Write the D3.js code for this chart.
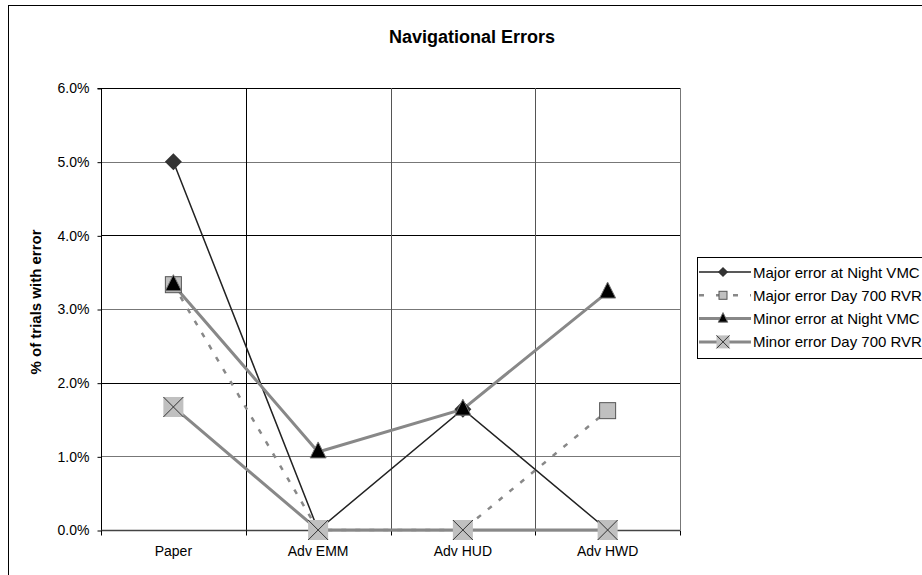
<!DOCTYPE html>
<html><head><meta charset="utf-8">
<script src="https://cdn.jsdelivr.net/npm/d3@7"></script>
<style>body{margin:0;background:#fff;}svg{display:block;font-family:"Liberation Sans",Arial,sans-serif;}</style>
</head><body>
<svg id="c" width="922" height="575"></svg>
<script>
const categories = ["Paper", "Adv EMM", "Adv HUD", "Adv HWD"];
const majorNightVMC = [5.0, 0.0, 1.64, 0.0];
const majorDay700RVR = [3.33, 0.0, 0.0, 1.62];
const minorNightVMC = [3.33, 1.06, 1.64, 3.23];
const minorDay700RVR = [1.67, 0.0, 0.0, 0.0];
const yTicks = [0, 1, 2, 3, 4, 5, 6];
const seriesNames = ["Major error at Night VMC", "Major error Day 700 RVR", "Minor error at Night VMC", "Minor error Day 700 RVR"];

const svg = d3.select("#c");
// outer frame
svg.append("rect").attr("x", 8.5).attr("y", 5.5).attr("width", 930).attr("height", 580)
  .attr("fill", "#fff").attr("stroke", "#000").attr("stroke-width", 1);

const L = 101, R = 680, T = 88, B = 530;
const x = d3.scaleBand().domain(categories).range([L, R]).padding(0);
const y = d3.scaleLinear().domain([0, 6]).range([B, T]);
const cx = c => x(c) + x.bandwidth() / 2;

const g = svg.append("g");
// horizontal gridlines
g.selectAll(".hg").data(yTicks.slice(1)).join("line")
  .attr("x1", L).attr("x2", R).attr("y1", d => Math.round(y(d)) + 0.5).attr("y2", d => Math.round(y(d)) + 0.5)
  .attr("stroke", d => d % 2 === 0 ? "#000" : "#777").attr("stroke-width", 1);
// vertical gridlines
g.selectAll(".vg").data(categories.slice(1)).join("line")
  .attr("x1", d => Math.round(x(d)) + 0.5).attr("x2", d => Math.round(x(d)) + 0.5).attr("y1", T).attr("y2", B)
  .attr("stroke", (d, i) => i === 0 ? "#000" : "#555").attr("stroke-width", 1);
// right plot border
g.append("line").attr("x1", R + 0.5).attr("x2", R + 0.5).attr("y1", T).attr("y2", B).attr("stroke", "#777");

// y axis
const yAxis = d3.axisLeft(y).tickValues(yTicks).tickFormat(d => d.toFixed(1) + "%").tickSize(4).tickPadding(8);
const ya = svg.append("g").attr("transform", `translate(${L + 0.5},0.5)`).call(yAxis);
ya.attr("font-size", null).attr("font-family", null);
ya.select(".domain").attr("stroke", "#000").attr("d", `M-4,${T}H0V${B}`);
ya.selectAll("text").attr("font-size", 14).attr("fill", "#000");
ya.selectAll(".tick line").attr("stroke", "#000");

// x axis
const xAxis = d3.axisBottom(x).tickSize(0).tickPadding(16);
const xa = svg.append("g").attr("transform", `translate(0,${B + 0.5})`).call(xAxis);
xa.attr("font-size", null).attr("font-family", null);
xa.select(".domain").attr("stroke", "#444").attr("stroke-width", 1.5).attr("d", `M${L},0H${R}`);
xa.selectAll("text").attr("font-size", 14).attr("fill", "#000");
xa.selectAll(".bt").data([L, ...categories.slice(1).map(c => x(c)), R]).join("line")
  .attr("x1", d => Math.round(d) + 0.5).attr("x2", d => Math.round(d) + 0.5).attr("y1", 0).attr("y2", 5).attr("stroke", "#000");

// titles
svg.append("text").attr("x", 472).attr("y", 43).attr("text-anchor", "middle").attr("font-weight", "bold")
  .attr("font-size", 18).text("Navigational Errors");
svg.append("text").attr("transform", `translate(41,302) rotate(-90)`).attr("text-anchor", "middle")
  .attr("font-weight", "bold").attr("font-size", 15).text("% of trials with error");

const line = d3.line().x((d, i) => cx(categories[i])).y(d => y(d));

const styles = [
  {data: majorNightVMC, stroke: "#222", width: 1.5, dash: null, marker: "diamond"},
  {data: majorDay700RVR, stroke: "#888", width: 2.5, dash: "5,9", marker: "square"},
  {data: minorNightVMC, stroke: "#888", width: 3, dash: null, marker: "triangle"},
  {data: minorDay700RVR, stroke: "#888", width: 3, dash: null, marker: "x"}
];

function drawMarker(sel, type, px, py, size) {
  const s = size || 1;
  if (type === "diamond") {
    sel.append("path").attr("d", `M${px},${py - 8.5 * s}L${px + 8.5 * s},${py}L${px},${py + 8.5 * s}L${px - 8.5 * s},${py}Z`).attr("fill", "#333");
  } else if (type === "square") {
    sel.append("rect").attr("x", px - 8 * s).attr("y", py - 8 * s).attr("width", 16 * s).attr("height", 16 * s)
      .attr("fill", "#c0c0c0").attr("stroke", "#555").attr("stroke-width", 1);
  } else if (type === "triangle") {
    sel.append("path").attr("d", `M${px},${py - 10 * s}L${px + 8 * s},${py + 6 * s}L${px - 8 * s},${py + 6 * s}Z`)
      .attr("fill", "#000").attr("stroke", "#777").attr("stroke-width", 1);
  } else if (type === "x") {
    const h = 10 * s;
    sel.append("rect").attr("x", px - h).attr("y", py - h).attr("width", 2 * h).attr("height", 2 * h).attr("fill", "#c0c0c0");
    sel.append("path").attr("d", `M${px - h},${py - h}L${px + h},${py + h}M${px + h},${py - h}L${px - h},${py + h}`)
      .attr("stroke", "#333").attr("stroke-width", 1);
  }
}

const lg = svg.append("g");
styles.forEach(s => {
  lg.append("path").datum(s.data).attr("d", line).attr("fill", "none").attr("stroke", s.stroke)
    .attr("stroke-width", s.width).attr("stroke-dasharray", s.dash);
});
// markers: diamond, square, x, triangle (top)
[0, 1, 3, 2].forEach(k => {
  const s = styles[k];
  s.data.forEach((v, i) => drawMarker(lg, s.marker, cx(categories[i]), y(v), 1));
});

// legend
const leg = svg.append("g");
leg.append("rect").attr("x", 697.5).attr("y", 257.5).attr("width", 240).attr("height", 101)
  .attr("fill", "#fff").attr("stroke", "#000").attr("stroke-width", 1);
styles.forEach((s, i) => {
  const ly = 272 + i * 23.3;
  leg.append("line").attr("x1", 699).attr("x2", 751).attr("y1", ly).attr("y2", ly)
    .attr("stroke", s.stroke).attr("stroke-width", s.width).attr("stroke-dasharray", s.dash ? "5,12" : null);
  drawMarker(leg, s.marker, 723, ly, s.marker === "x" ? 0.65 : s.marker === "diamond" ? 0.6 : s.marker === "triangle" ? 0.6 : 0.5);
  leg.append("text").attr("x", 753).attr("y", ly + 5.5).attr("font-size", 15).attr("fill", "#000").text(seriesNames[i]);
});
</script>
</body></html>
